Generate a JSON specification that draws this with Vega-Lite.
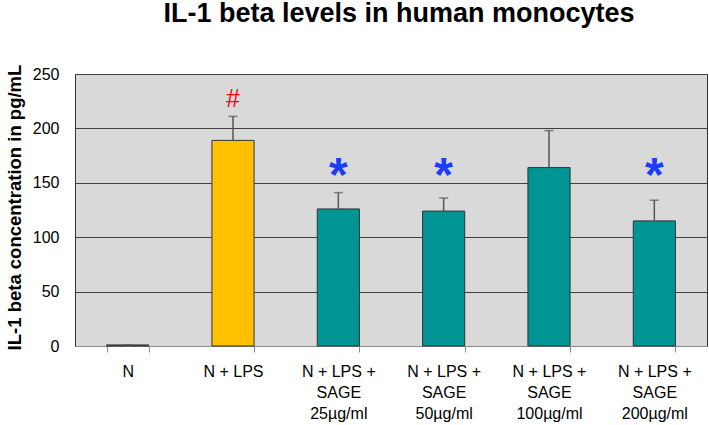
{
  "$schema": "https://vega.github.io/schema/vega-lite/v6.json",
  "autosize": {"type": "none"},
  "width": 632,
  "height": 272,
  "padding": {"left": 75, "top": 74, "right": 2, "bottom": 79},
  "background": "white",
  "config": {
    "font": "Liberation Sans",
    "view": {"fill": "#D9D9D9", "stroke": "#333333", "strokeWidth": 1}
  },
  "title": {
    "text": "IL-1 beta levels in human monocytes",
    "font": "Liberation Sans",
    "fontSize": 27,
    "fontWeight": "bold",
    "color": "#000000",
    "anchor": "middle",
    "frame": "group",
    "baseline": "bottom",
    "offset": 9,
    "dx": 8
  },
  "data": {
    "values": [
      {"order": 1, "label": "N", "group": "N", "value": 1, "err": 1, "annot": "", "annot_y": 0},
      {"order": 2, "label": "N + LPS", "group": "LPS", "value": 189, "err": 211, "annot": "#", "annot_y": 220},
      {"order": 3, "label": "N + LPS +|SAGE|25µg/ml", "group": "SAGE", "value": 126, "err": 141, "annot": "*", "annot_y": 142.5},
      {"order": 4, "label": "N + LPS +|SAGE|50µg/ml", "group": "SAGE", "value": 124, "err": 136, "annot": "*", "annot_y": 142.5},
      {"order": 5, "label": "N + LPS +|SAGE|100µg/ml", "group": "SAGE", "value": 164, "err": 198, "annot": "", "annot_y": 0},
      {"order": 6, "label": "N + LPS +|SAGE|200µg/ml", "group": "SAGE", "value": 115, "err": 134, "annot": "*", "annot_y": 142.5}
    ]
  },
  "encoding": {
    "x": {
      "field": "label",
      "type": "nominal",
      "sort": ["N", "N + LPS", "N + LPS +|SAGE|25µg/ml", "N + LPS +|SAGE|50µg/ml", "N + LPS +|SAGE|100µg/ml", "N + LPS +|SAGE|200µg/ml"],
      "scale": {"paddingInner": 0.6, "paddingOuter": 0.3},
      "axis": {
        "title": null,
        "labelAngle": 0,
        "labelExpr": "split(datum.label, '|')",
        "labelFont": "Liberation Sans",
        "labelFontSize": 16,
        "labelColor": "#000000",
        "labelLineHeight": 21,
        "labelBaseline": "top",
        "labelPadding": 11,
        "tickBand": "extent",
        "tickSize": 6,
        "tickColor": "#8C8C8C",
        "domainColor": "#8C8C8C",
        "labelFlush": false,
        "labelOverlap": false
      }
    }
  },
  "layer": [
    {
      "mark": {"type": "bar", "stroke": "#333333", "strokeWidth": 1},
      "encoding": {
        "y": {
          "field": "value",
          "type": "quantitative",
          "scale": {"domain": [0, 250], "nice": false},
          "axis": {
            "values": [0, 50, 100, 150, 200, 250],
            "title": "IL-1 beta concentration in pg/mL",
            "titleFont": "Liberation Sans",
            "titleFontSize": 18.5,
            "titleFontWeight": "bold",
            "titleColor": "#000000",
            "titleAngle": -90,
            "titleX": -61,
            "titleY": 133,
            "titleAlign": "center",
            "titleBaseline": "middle",
            "labelFont": "Liberation Sans",
            "labelFontSize": 16,
            "labelColor": "#000000",
            "labelPadding": 16,
            "ticks": false,
            "domain": false,
            "grid": true,
            "gridColor": "#404040",
            "gridWidth": 1,
            "gridOpacity": 1
          }
        },
        "color": {
          "field": "group",
          "type": "nominal",
          "scale": {"domain": ["N", "LPS", "SAGE"], "range": ["#555555", "#FFC000", "#009494"]},
          "legend": null
        }
      }
    },
    {
      "mark": {"type": "rule", "color": "#555555", "strokeWidth": 1.5},
      "encoding": {
        "y": {"field": "value", "type": "quantitative"},
        "y2": {"field": "err"}
      }
    },
    {
      "mark": {"type": "tick", "color": "#555555", "thickness": 1.5, "size": 9, "orient": "horizontal"},
      "encoding": {
        "y": {"field": "err", "type": "quantitative"}
      }
    },
    {
      "transform": [{"filter": "datum.annot == '#'"}],
      "mark": {"type": "text", "color": "#FF0000", "fontSize": 25, "font": "Liberation Sans", "baseline": "alphabetic", "align": "center"},
      "encoding": {
        "y": {"field": "annot_y", "type": "quantitative"},
        "text": {"field": "annot"}
      }
    },
    {
      "transform": [{"filter": "datum.annot == '*'"}],
      "mark": {"type": "text", "color": "#1A3CFF", "fontSize": 48, "fontWeight": "bold", "font": "Liberation Sans", "baseline": "alphabetic", "align": "center"},
      "encoding": {
        "y": {"field": "annot_y", "type": "quantitative"},
        "text": {"field": "annot"}
      }
    }
  ]
}
